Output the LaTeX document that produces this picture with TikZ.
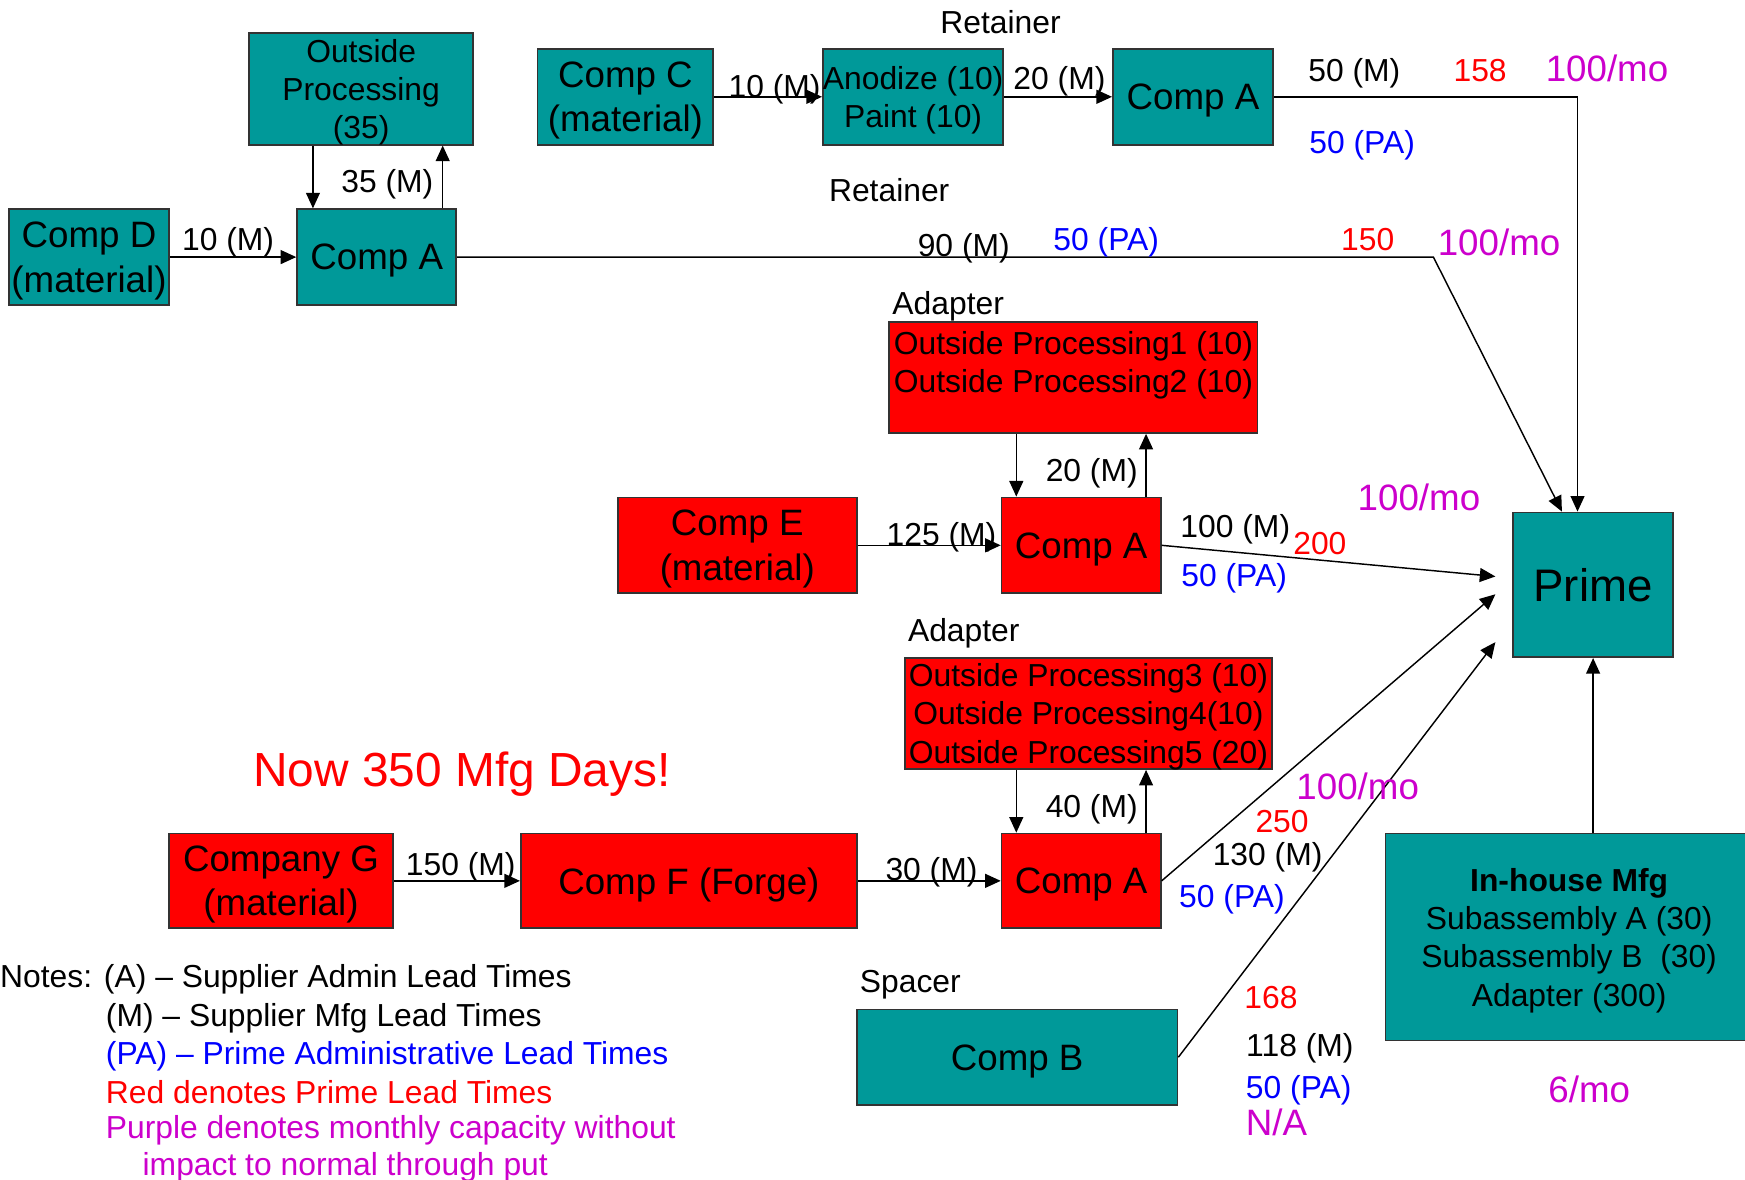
\documentclass[tikz,border=0pt]{standalone}
\usepackage{fontspec}
\setmainfont{Liberation Sans}
\usetikzlibrary{arrows.meta,calc}
\definecolor{tealfill}{HTML}{009999}
\definecolor{redfill}{HTML}{FF0000}
\definecolor{purp}{HTML}{CC00CC}
\definecolor{bluetx}{HTML}{0000FF}
\definecolor{edgegray}{HTML}{333333}
\newcommand\fsBox{\fontsize{33}{40}\selectfont}
\newcommand\fsLbl{\fontsize{28.6}{34.5}\selectfont}
\newcommand\fsCap{\fontsize{33}{38}\selectfont}
\begin{document}
\begin{tikzpicture}[x=1pt,y=-1pt,
  box/.style={draw=edgegray, line width=1.6pt, inner sep=0pt, align=center, font=\fsBox, text depth=0pt},
  tealbox/.style={box, fill=tealfill},
  redbox/.style={box, fill=redfill},
  lbl/.style={inner sep=0pt, font=\fsLbl, align=center, text depth=0pt},
  capacity/.style={inner sep=0pt, font=\fsCap, text=purp, text depth=0pt},
  lead/.style={lbl, text=redfill},
  pa/.style={lbl, text=bluetx},
  arr/.style={line width=1.3pt, -{Triangle[length=14pt,width=12.5pt]}}]
\useasboundingbox (0,0) rectangle (1568,1060);
\fill[white] (0,0) rectangle (1568,1060);

% ---- boxes ----
\node[tealbox, minimum width=201pt, minimum height=100pt, font=\fsLbl] (op35) at (324.5,80) {Outside\\Processing\\(35)};
\node[tealbox, minimum width=144pt, minimum height=86pt] (compD) at (80,231) {Comp D\\(material)};
\node[tealbox, minimum width=143pt, minimum height=86pt] (a1) at (338.5,231) {Comp A};
\node[tealbox, minimum width=158pt, minimum height=86pt] (compC) at (562,87) {Comp C\\(material)};
\node[tealbox, minimum width=159pt, minimum height=86pt, font=\fsLbl] (anod) at (820.5,87) {Anodize (10)\\Paint (10)};
\node[tealbox, minimum width=144pt, minimum height=86pt] (a2) at (1072,87) {Comp A};
\node[tealbox, minimum width=144pt, minimum height=130pt, font=\fontsize{41}{48}\selectfont] (prime) at (1431.5,525.5) {Prime};
\node[redbox, minimum width=331pt, minimum height=100pt] (op12) at (964.5,339) {};
\node[lbl] (op12txt) at (964.5,325.5) {Outside Processing1 (10)\\Outside Processing2 (10)};
\node[redbox, minimum width=215pt, minimum height=86pt] (compE) at (662.5,490) {Comp E\\(material)};
\node[redbox, minimum width=143pt, minimum height=86pt] (a3) at (971.5,490) {Comp A};
\node[redbox, minimum width=330pt, minimum height=100pt, font=\fsLbl] (op345) at (978,641) {Outside Processing3 (10)\\Outside Processing4(10)\\Outside Processing5 (20)};
\node[redbox, minimum width=201pt, minimum height=85pt] (compG) at (252.5,791.5) {Company G\\(material)};
\node[redbox, minimum width=302pt, minimum height=85pt] (compF) at (619,791.5) {Comp F (Forge)};
\node[redbox, minimum width=143pt, minimum height=85pt] (a4) at (971.5,791.5) {Comp A};
\node[tealbox, minimum width=288pt, minimum height=86pt] (compB) at (914,950) {Comp B};
\node[tealbox, minimum width=330pt, minimum height=186pt, font=\fsLbl] (inhouse) at (1410,842) {\textbf{In-house Mfg}\\Subassembly A (30)\\Subassembly B\ \ (30)\\Adapter (300)};

% ---- connector end points ----
\coordinate (a1dn) at ($(a1.north west)+(15,0)$);
\coordinate (a1up) at ($(a1.north east)+(-13,0)$);
\coordinate (a3dn) at ($(a3.north west)+(14,0)$);
\coordinate (a3up) at ($(a3.north east)+(-14,0)$);
\coordinate (a4dn) at ($(a4.north west)+(14,0)$);
\coordinate (a4up) at ($(a4.north east)+(-14,0)$);
\coordinate (bend1) at (1288,231);
\coordinate (pN1) at ($(prime.north)+(-28,0)$);
\coordinate (pN2) at ($(prime.north)+(-14,0)$);
\coordinate (pW1) at ($(prime.west)+(-15,-7.5)$);
\coordinate (pW2) at ($(prime.west)+(-15,8.5)$);
\coordinate (pW3) at ($(prime.west)+(-15,51.5)$);

% ---- connectors ----
\draw[arr] (a1dn |- op35.south) -- (a1dn);
\draw[arr] (a1up) -- (a1up |- op35.south);
\draw[arr] (compD) -- (a1);
\draw[arr] (compC) -- (anod);
\draw[arr] (anod) -- (a2);
\draw[arr] (a2.east) -| (pN2);
\draw[arr] (a1.east) -- (bend1) -- (pN1);
\draw[arr] (a3dn |- op12.south) -- (a3dn);
\draw[arr] (a3up) -- (a3up |- op12.south);
\draw[arr] (compE) -- (a3);
\draw[arr] (a3.east) -- (pW1);
\draw[arr] (a4dn |- op345.south) -- (a4dn);
\draw[arr] (a4up) -- (a4up |- op345.south);
\draw[arr] (compG) -- (compF);
\draw[arr] (compF) -- (a4);
\draw[arr] (a4.east) -- (pW2);
\draw[arr] (compB.east) -- (pW3);
\draw[arr] (inhouse.north -| prime.south) -- (prime.south);

% ---- part names ----
\node[lbl] (ret1) at (899,20) {Retainer};
\node[lbl] (ret2) at (799,171) {Retainer};
\node[lbl] (adp1) at (852,272) {Adapter};
\node[lbl] (adp2) at (866,566) {Adapter};
\node[lbl] (spc) at (818,882) {Spacer};

% ---- lead times and capacities ----
\node[lbl] (m35) at (348,163) {35 (M)};
\node[lbl] (m10a) at (205,215) {10 (M)};
\node[lbl] (m10b) at (696,77) {10 (M)};
\node[lbl] (m20a) at (952,70) {20 (M)};
\node[lbl] (m50) at (1217,63) {50 (M)};
\node[lead] (r158) at (1330,63) {158};
\node[capacity] (c1) at (1444,61) {100/mo};
\node[pa] (pa1) at (1224,128) {50 (PA)};
\node[lbl] (m90) at (866,220) {90 (M)};
\node[pa] (pa2) at (994,215) {50 (PA)};
\node[lead] (r150) at (1229,215) {150};
\node[capacity] (c2) at (1347,218) {100/mo};
\node[lbl] (m20b) at (981,422) {20 (M)};
\node[lbl] (m125) at (846,480) {125 (M)};
\node[lbl] (m100) at (1110,473) {100 (M)};
\node[lead] (r200) at (1186,488) {200};
\node[pa] (pa3) at (1109,517) {50 (PA)};
\node[capacity] (c3) at (1275,447) {100/mo};
\node[lbl] (m40) at (981,724) {40 (M)};
\node[lbl] (m150) at (414,776) {150 (M)};
\node[lbl] (m30) at (837,781) {30 (M)};
\node[capacity] (c4) at (1220,706) {100/mo};
\node[lead] (r250) at (1152,738) {250};
\node[lbl] (m130) at (1139,767) {130 (M)};
\node[pa] (pa4) at (1107,805) {50 (PA)};
\node[lead] (r168) at (1142,896) {168};
\node[lbl] (m118) at (1168,939) {118 (M)};
\node[pa] (pa5) at (1167,977) {50 (PA)};
\node[capacity] (na) at (1147,1008) {N/A};
\node[capacity] (c5) at (1428,979) {6/mo};

\node[inner sep=0pt, font=\fontsize{43}{48}\selectfont, text=redfill, text depth=0pt] (now) at (415,691) {Now 350 Mfg Days!};

% ---- notes ----
\node[lbl, anchor=west] (n1) at (0,877) {Notes: (A) \textendash{} Supplier Admin Lead Times};
\node[lbl, anchor=west] (n2) at (95,912) {(M) \textendash{} Supplier Mfg Lead Times};
\node[pa, anchor=west] (n3) at (95,946) {(PA) \textendash{} Prime Administrative Lead Times};
\node[lead, anchor=west] (n4) at (95,981) {Red denotes Prime Lead Times};
\node[lbl, anchor=west, text=purp] (n5) at (95,1013) {Purple denotes monthly capacity without};
\node[lbl, anchor=west, text=purp] (n6) at (128,1046) {impact to normal through put};
\end{tikzpicture}
\end{document}
